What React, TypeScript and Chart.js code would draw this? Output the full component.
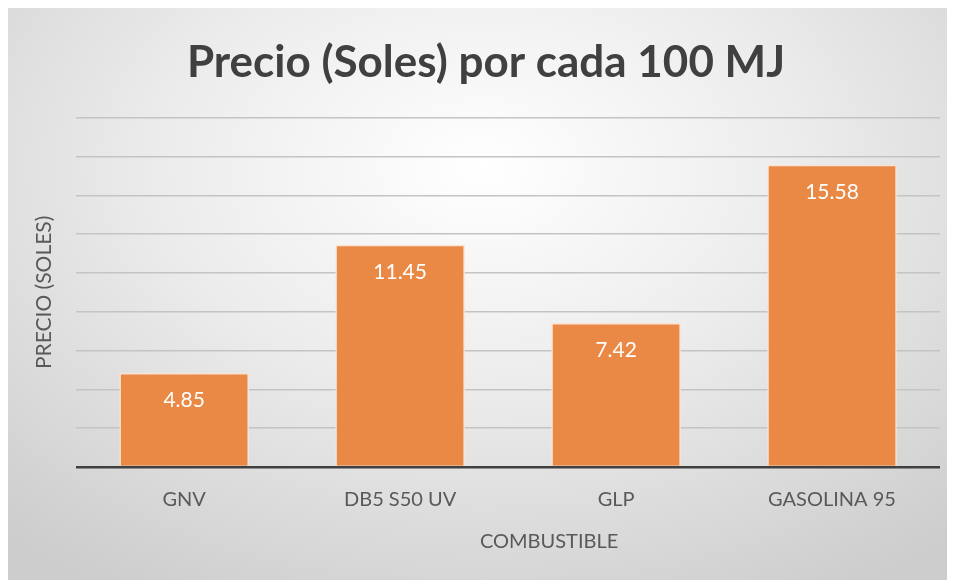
import React, { useEffect, useRef } from "react";
import { Chart, registerables } from "chart.js";

Chart.register(...registerables);

const categories = ["GNV", "DB5 S50 UV", "GLP", "GASOLINA 95"];
const prices = [4.85, 11.45, 7.42, 15.58];
const yMax = 18;
const yStep = 2;
const chartTitle = "Precio (Soles) por cada 100 MJ";
const xTitle = "COMBUSTIBLE";
const yTitle = "PRECIO (SOLES)";

const FONT = "Lato, 'Open Sans', sans-serif";

const valueLabels = {
  id: "valueLabels",
  afterDatasetsDraw(chart: any) {
    const ctx = chart.ctx;
    const meta = chart.getDatasetMeta(0);
    const data = chart.data.datasets[0].data;
    ctx.save();
    ctx.fillStyle = "#ffffff";
    ctx.font = `21px ${FONT}`;
    ctx.textAlign = "center";
    ctx.textBaseline = "middle";
    meta.data.forEach((bar: any, i: number) => {
      ctx.fillText(Number(data[i]).toFixed(2), bar.x, bar.y + 27);
    });
    ctx.restore();
  },
};

const xAxisTitle = {
  id: "xAxisTitle",
  afterDraw(chart: any) {
    const ctx = chart.ctx;
    const area = chart.chartArea;
    ctx.save();
    ctx.fillStyle = "#595959";
    ctx.font = `20px ${FONT}`;
    ctx.textAlign = "center";
    ctx.textBaseline = "middle";
    ctx.fillText(xTitle, (area.left + area.right) / 2 + 41, area.bottom + 75);
    ctx.restore();
  },
};

export default function App() {
  const ref = useRef<HTMLCanvasElement | null>(null);
  useEffect(() => {
    if (!ref.current) return;
    const chart = new Chart(ref.current, {
      type: "bar",
      data: {
        labels: categories,
        datasets: [
          {
            data: prices,
            backgroundColor: "#EA8846",
            borderColor: "#FBE3D2",
            borderWidth: 1.5,
            barPercentage: 0.6,
            categoryPercentage: 1,
          },
        ],
      },
      options: {
        responsive: false,
        animation: false,
        layout: { padding: { left: 24, right: 15, top: 0, bottom: 55 } },
        plugins: {
          legend: { display: false },
          tooltip: { enabled: false },
          title: {
            display: true,
            text: chartTitle,
            color: "#404040",
            font: { family: FONT, size: 44, weight: "bold", lineHeight: 1.2 },
            padding: { top: 28, bottom: 29 },
          },
        },
        scales: {
          x: {
            grid: { display: false },
            border: { display: false },
            ticks: {
              color: "#595959",
              font: { family: FONT, size: 20 },
              padding: 13,
              maxRotation: 0,
            },
          },
          y: {
            min: 0,
            max: yMax,
            border: { display: false },
            ticks: { display: false, stepSize: yStep },
            grid: {
              drawTicks: false,
              color: (c: any) => (c.tick && c.tick.value === 0 ? "#404040" : "#c4c4c4"),
              lineWidth: (c: any) => (c.tick && c.tick.value === 0 ? 2.5 : 1.5),
            },
            title: {
              display: true,
              text: yTitle,
              color: "#595959",
              font: { family: FONT, size: 21 },
              padding: { top: 0, bottom: 19 },
            },
          },
        },
      },
      plugins: [valueLabels, xAxisTitle],
    });
    return () => chart.destroy();
  }, []);
  return (
    <div
      style={{
        width: 947,
        height: 572,
        background:
          "radial-gradient(ellipse 75% 85% at 50% 28%, #ffffff 0%, #ececec 45%, #cdcdcd 100%)",
      }}
    >
      <canvas ref={ref} width={947} height={572} style={{ display: "block" }} />
    </div>
  );
}
